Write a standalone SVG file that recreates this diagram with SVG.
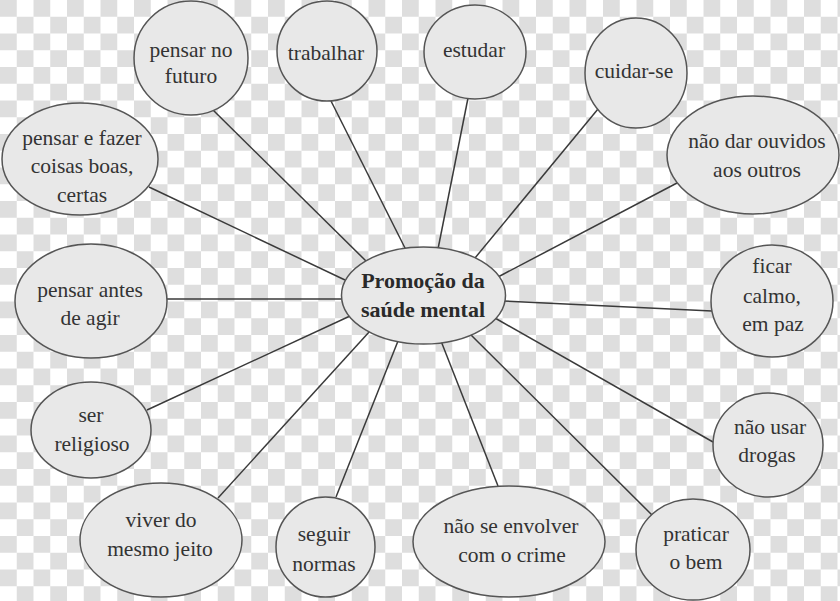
<svg xmlns="http://www.w3.org/2000/svg" width="840" height="601" viewBox="0 0 840 601">
<defs>
<pattern id="checker" x="0" y="0" width="33.5" height="33.5" patternUnits="userSpaceOnUse">
<rect x="0" y="0" width="33.5" height="33.5" fill="#ffffff"/>
<rect x="0" y="0" width="16.75" height="16.75" fill="#dedede"/>
<rect x="16.75" y="16.75" width="16.75" height="16.75" fill="#dedede"/>
</pattern>
<style>
.node{fill:#e8e8e8;stroke:#555555;stroke-width:1.5}
.lbl{font-family:"Liberation Serif","Times New Roman",serif;font-size:21.5px;fill:#333333;text-anchor:middle}
.main{font-family:"Liberation Serif","Times New Roman",serif;font-size:22px;font-weight:bold;fill:#2a2a2a;text-anchor:middle}
.conn line{stroke:#3a3a3a;stroke-width:1.5}
</style>
</defs>
<rect x="0" y="0" width="840" height="601" fill="url(#checker)"/>
<g id="connectors" class="conn">
<line x1="213" y1="110" x2="367" y2="262"/>
<line x1="331" y1="101" x2="406" y2="250"/>
<line x1="468" y1="98" x2="438" y2="249"/>
<line x1="598" y1="109" x2="475" y2="258"/>
<line x1="677" y1="183" x2="498" y2="277"/>
<line x1="712" y1="311" x2="503" y2="301"/>
<line x1="713" y1="442" x2="495" y2="318"/>
<line x1="652" y1="515" x2="470" y2="334"/>
<line x1="498" y1="486" x2="441" y2="341"/>
<line x1="336" y1="497" x2="398" y2="341"/>
<line x1="218" y1="498" x2="370" y2="331"/>
<line x1="147" y1="410" x2="350" y2="316"/>
<line x1="167" y1="299" x2="344" y2="299"/>
<line x1="149" y1="187" x2="345" y2="280"/>
</g>
<g id="center">
<ellipse class="node" cx="423.5" cy="295.5" rx="82" ry="48.5"/>
<text class="main" x="423" y="288">Promoção da</text>
<text class="main" x="423" y="317">saúde mental</text>
</g>
<g id="n-futuro">
<ellipse class="node" cx="191" cy="58" rx="57" ry="57"/>
<text class="lbl" x="191" y="57">pensar no</text>
<text class="lbl" x="191" y="83">futuro</text>
</g>
<g id="n-trabalhar">
<ellipse class="node" cx="327" cy="51" rx="50" ry="50"/>
<text class="lbl" x="326" y="60">trabalhar</text>
</g>
<g id="n-estudar">
<ellipse class="node" cx="475" cy="52" rx="51" ry="47"/>
<text class="lbl" x="474" y="57">estudar</text>
</g>
<g id="n-cuidar">
<ellipse class="node" cx="636" cy="73" rx="51" ry="55"/>
<text class="lbl" x="634" y="78">cuidar-se</text>
</g>
<g id="n-ouvidos">
<ellipse class="node" cx="753" cy="155" rx="86" ry="59"/>
<text class="lbl" x="757" y="148">não dar ouvidos</text>
<text class="lbl" x="757" y="177">aos outros</text>
</g>
<g id="n-calmo">
<ellipse class="node" cx="772" cy="301" rx="61" ry="56"/>
<text class="lbl" x="772" y="273">ficar</text>
<text class="lbl" x="772" y="303">calmo,</text>
<text class="lbl" x="773" y="331">em paz</text>
</g>
<g id="n-drogas">
<ellipse class="node" cx="768" cy="445" rx="55" ry="52"/>
<text class="lbl" x="770" y="434">não usar</text>
<text class="lbl" x="767" y="462">drogas</text>
</g>
<g id="n-praticar">
<ellipse class="node" cx="693" cy="549.5" rx="57" ry="50.5"/>
<text class="lbl" x="696" y="541">praticar</text>
<text class="lbl" x="696" y="569">o bem</text>
</g>
<g id="n-crime">
<ellipse class="node" cx="509" cy="541.5" rx="96" ry="55.5"/>
<text class="lbl" x="511" y="533">não se envolver</text>
<text class="lbl" x="512" y="562">com o crime</text>
</g>
<g id="n-normas">
<ellipse class="node" cx="325.5" cy="547" rx="49.5" ry="50"/>
<text class="lbl" x="324" y="541">seguir</text>
<text class="lbl" x="324" y="571">normas</text>
</g>
<g id="n-viver">
<ellipse class="node" cx="161" cy="540" rx="81" ry="57"/>
<text class="lbl" x="161" y="527">viver do</text>
<text class="lbl" x="160" y="556">mesmo jeito</text>
</g>
<g id="n-religioso">
<ellipse class="node" cx="91" cy="430" rx="60" ry="48"/>
<text class="lbl" x="91" y="422">ser</text>
<text class="lbl" x="92" y="451">religioso</text>
</g>
<g id="n-antes">
<ellipse class="node" cx="91" cy="301" rx="76" ry="57"/>
<text class="lbl" x="90" y="297">pensar antes</text>
<text class="lbl" x="90" y="325">de agir</text>
</g>
<g id="n-fazer">
<ellipse class="node" cx="80" cy="159" rx="78" ry="56"/>
<text class="lbl" x="82" y="145">pensar e fazer</text>
<text class="lbl" x="82" y="173">coisas boas,</text>
<text class="lbl" x="82" y="202">certas</text>
</g>
</svg>
